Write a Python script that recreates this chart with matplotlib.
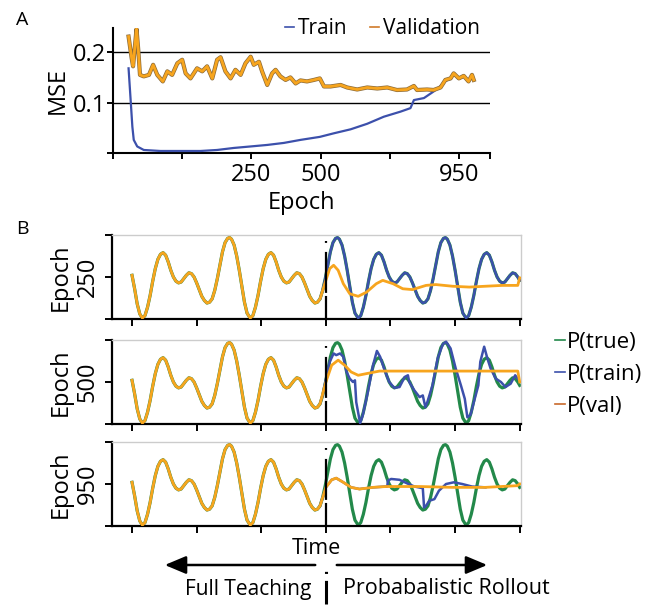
import numpy as np
import matplotlib
matplotlib.use('Agg')
import matplotlib.pyplot as plt
import matplotlib.patheffects as pe
from matplotlib.patches import FancyArrowPatch
from matplotlib.lines import Line2D

plt.rcParams['font.family'] = ['Open Sans', 'DejaVu Sans']
plt.rcParams['lines.scale_dashes'] = False

# ---- panel A data ----
epoch_val = [0, 9, 13, 23, 28, 33, 44, 59, 71, 83, 99, 112, 126, 141, 155, 165, 179, 198, 213, 227,
             242, 256, 266, 280, 295, 309, 324, 338, 353, 362, 377, 386, 401, 415, 425, 439, 454, 468,
             483, 497, 516, 536, 553, 565, 584, 613, 632, 661, 690, 719, 748, 776, 805, 825, 834, 863,
             882, 902, 916, 931, 940, 955, 969, 983, 993, 998]
mse_val = [0.231, 0.188, 0.172, 0.246, 0.205, 0.155, 0.152, 0.155, 0.175, 0.155, 0.142, 0.162, 0.155,
           0.178, 0.185, 0.158, 0.148, 0.168, 0.162, 0.172, 0.148, 0.185, 0.190, 0.162, 0.148, 0.165,
           0.155, 0.178, 0.191, 0.175, 0.181, 0.162, 0.135, 0.158, 0.165, 0.152, 0.145, 0.150, 0.138,
           0.144, 0.142, 0.145, 0.148, 0.132, 0.132, 0.135, 0.130, 0.126, 0.130, 0.128, 0.130, 0.125,
           0.126, 0.133, 0.125, 0.126, 0.125, 0.130, 0.145, 0.148, 0.158, 0.148, 0.153, 0.142, 0.155,
           0.145]
epoch_train = [0, 6, 11, 15, 25, 44, 92, 208, 256, 304, 353, 401, 449, 497, 553, 593, 642, 690, 738,
               786, 815, 825, 854, 882, 902, 916, 931, 940, 955, 969, 983, 993, 998]
mse_train = [0.168, 0.105, 0.052, 0.026, 0.013, 0.006, 0.004, 0.004, 0.006, 0.010, 0.013, 0.016,
             0.020, 0.026, 0.032, 0.039, 0.047, 0.058, 0.072, 0.082, 0.089, 0.105, 0.109, 0.122,
             0.133, 0.143, 0.147, 0.157, 0.147, 0.152, 0.141, 0.154, 0.144]

# ---- panel B data ----
t_true = [0.00, 0.04, 0.08, 0.12,
          0.16, 0.20, 0.24, 0.28, 0.32, 0.36, 0.40, 0.44, 0.48, 0.52, 0.56, 0.60, 0.64, 0.68, 0.72,
          0.76, 0.80, 0.84, 0.88, 0.92, 0.96, 1.00, 1.04, 1.08, 1.12, 1.16, 1.20, 1.24, 1.28, 1.32,
          1.36, 1.40, 1.44, 1.48, 1.51, 1.54, 1.58, 1.62, 1.66, 1.70, 1.74, 1.78,
          1.83, 1.87, 1.91, 1.95, 1.99, 2.03, 2.07, 2.11, 2.15, 2.19, 2.23, 2.27, 2.31, 2.35, 2.39,
          2.43, 2.47, 2.51, 2.55, 2.59, 2.63, 2.67, 2.71, 2.75, 2.79, 2.83, 2.87, 2.91, 2.95, 2.99,
          3.03, 3.07, 3.11, 3.15, 3.18, 3.21, 3.25, 3.29, 3.33, 3.37, 3.41, 3.45,
          3.50, 3.54, 3.58, 3.62, 3.66, 3.70, 3.74, 3.78, 3.82, 3.86, 3.90, 3.94, 3.98, 4.02, 4.06,
          4.10, 4.14, 4.18, 4.22, 4.26, 4.30, 4.34, 4.38, 4.42, 4.46, 4.50, 4.54, 4.58, 4.62, 4.66,
          4.70, 4.74, 4.78, 4.82, 4.85, 4.88, 4.92, 4.96, 5.00, 5.04, 5.08, 5.12,
          5.17, 5.21, 5.25, 5.29, 5.33, 5.37, 5.41, 5.45, 5.49, 5.53, 5.57, 5.61, 5.65, 5.69, 5.73,
          5.77, 5.81, 5.85, 5.89, 5.93, 5.97, 6.00]
p_true = [0.52, 0.36, 0.18, 0.06,
          0.01, 0.04, 0.14, 0.28, 0.45, 0.60, 0.71, 0.77, 0.79, 0.76, 0.68, 0.58, 0.50, 0.45, 0.43,
          0.44, 0.48, 0.52, 0.55, 0.54, 0.50, 0.43, 0.35, 0.27, 0.22, 0.19, 0.20, 0.24, 0.34, 0.48,
          0.64, 0.80, 0.91, 0.96, 0.97, 0.95, 0.88, 0.75, 0.58, 0.39, 0.20, 0.07,
          0.01, 0.04, 0.14, 0.28, 0.45, 0.60, 0.71, 0.77, 0.79, 0.76, 0.68, 0.58, 0.50, 0.45, 0.43,
          0.44, 0.48, 0.52, 0.55, 0.54, 0.50, 0.43, 0.35, 0.27, 0.22, 0.19, 0.20, 0.24, 0.34, 0.48,
          0.64, 0.80, 0.91, 0.96, 0.97, 0.95, 0.88, 0.75, 0.58, 0.39, 0.20, 0.07,
          0.01, 0.04, 0.14, 0.28, 0.45, 0.60, 0.71, 0.77, 0.79, 0.76, 0.68, 0.58, 0.50, 0.45, 0.43,
          0.44, 0.48, 0.52, 0.55, 0.54, 0.50, 0.43, 0.35, 0.27, 0.22, 0.19, 0.20, 0.24, 0.34, 0.48,
          0.64, 0.80, 0.91, 0.96, 0.97, 0.95, 0.88, 0.75, 0.58, 0.39, 0.20, 0.07,
          0.01, 0.04, 0.14, 0.28, 0.45, 0.60, 0.71, 0.77, 0.79, 0.76, 0.68, 0.58, 0.50, 0.45, 0.43,
          0.44, 0.48, 0.52, 0.55, 0.54, 0.50, 0.46]

# validation prediction after teacher forcing stops (one per epoch panel)
t_val_250 = [2.91, 3.00, 3.06, 3.12, 3.19, 3.27, 3.37, 3.50, 3.63, 3.78, 3.88, 4.04, 4.19, 4.34,
             4.55, 4.70, 4.96, 5.22, 5.47, 5.73, 5.97, 6.00]
p_val_250 = [0.24, 0.46, 0.60, 0.64, 0.58, 0.42, 0.30, 0.27, 0.32, 0.42, 0.46, 0.42, 0.36, 0.35,
             0.40, 0.41, 0.39, 0.38, 0.39, 0.40, 0.40, 0.49]
t_val_500 = [2.91, 3.00, 3.09, 3.19, 3.29, 3.39, 3.50, 3.63, 3.83, 4.09, 4.45, 4.96, 5.47, 5.97, 6.00]
p_val_500 = [0.24, 0.50, 0.70, 0.76, 0.70, 0.62, 0.58, 0.60, 0.63, 0.63, 0.63, 0.63, 0.63, 0.63, 0.50]
t_val_950 = [2.91, 3.00, 3.09, 3.16, 3.27, 3.39, 3.52, 3.73, 3.93, 4.45, 4.96, 5.47, 5.96, 6.00]
p_val_950 = [0.24, 0.46, 0.55, 0.57, 0.52, 0.46, 0.44, 0.46, 0.47, 0.47, 0.46, 0.46, 0.48, 0.50]

# train prediction in rollout
t_tr_500 = [2.91, 2.95, 2.98, 3.06, 3.12, 3.16, 3.22, 3.27, 3.32, 3.37, 3.42, 3.45, 3.47, 3.53, 3.57,
            3.65, 3.73, 3.79, 3.84, 3.91, 3.98, 4.06, 4.14, 4.22, 4.27, 4.29, 4.37, 4.45, 4.50, 4.54,
            4.57, 4.65, 4.73, 4.81, 4.86, 4.93, 5.01, 5.09, 5.15, 5.19, 5.24, 5.29, 5.36, 5.39, 5.45,
            5.50, 5.55, 5.63, 5.71, 5.78, 5.86, 5.93, 5.97]
p_tr_500 = [0.24, 0.34, 0.46, 0.74, 0.84, 0.82, 0.84, 0.80, 0.62, 0.54, 0.50, 0.52, 0.26, 0.01, 0.10,
            0.38, 0.70, 0.87, 0.80, 0.64, 0.50, 0.43, 0.44, 0.56, 0.58, 0.50, 0.40, 0.32, 0.34, 0.20,
            0.26, 0.46, 0.78, 0.95, 0.98, 0.90, 0.66, 0.46, 0.30, 0.08, 0.11, 0.26, 0.46, 0.74, 0.92,
            0.78, 0.66, 0.54, 0.50, 0.44, 0.48, 0.58, 0.54]
t_tr_950 = [3.93, 3.95, 3.96, 4.01, 4.14, 4.25, 4.37, 4.50, 4.52, 4.55, 4.60, 4.68, 4.75, 4.86, 4.98,
            5.11, 5.26, 5.47]
p_tr_950 = [0.47, 0.47, 0.54, 0.56, 0.55, 0.51, 0.47, 0.45, 0.22, 0.24, 0.30, 0.32, 0.42, 0.50, 0.52,
            0.50, 0.47, 0.46]

epoch_labels = ['250', '500', '950']

GREEN = '#23894a'
BLUE = '#3c50ab'
ORANGE = '#f7a51e'

W, H = 646, 605
fig = plt.figure(figsize=(W / 100, H / 100), dpi=100)


def fx(px):
    return px / W


def fy(py):
    return 1 - py / H


# dot / long dash / short gap / dash, as in the divider of the original
DIVIDER = (0, (16.6, 2.2, 29.5, 6.5, 1.4, 40))

# ---------------- panel A ----------------
axA = fig.add_axes([fx(113), fy(153), fx(490) - fx(113), fy(28) - fy(153)])
axA.plot(epoch_train, mse_train, color=BLUE, lw=1.6, zorder=3)
axA.plot(epoch_val, mse_val, color=ORANGE, lw=2.0, zorder=4,
         path_effects=[pe.Stroke(linewidth=3.0, foreground='#8a6a3a'), pe.Normal()])
axA.axhline(0.1, color='k', lw=1.0, zorder=1)
axA.axhline(0.2, color='k', lw=1.0, zorder=1)
axA.set_xlim(-45, 1045)
axA.set_ylim(0, 0.248)
axA.set_xticks([-45, 155, 355, 555, 755, 955, 1045])
axA.set_xticklabels(['', '', '250', '500', '', '950', ''], fontsize=17)
axA.set_yticks([0, 0.1, 0.2])
axA.set_yticklabels(['', '0.1', '0.2'], fontsize=17)
axA.tick_params(axis='x', length=4, width=1.4, pad=3)
axA.tick_params(axis='y', length=4, width=1.4, pad=1)
for s in ['top', 'right']:
    axA.spines[s].set_visible(False)
for s in ['left', 'bottom']:
    axA.spines[s].set_linewidth(1.5)
axA.set_xlabel('Epoch', fontsize=17, labelpad=3)
axA.set_ylabel('MSE', fontsize=17, labelpad=2)

hA = [Line2D([], [], color=BLUE, lw=1.2), Line2D([], [], color='#d07a2a', lw=1.2)]
fig.legend(hA, ['Train', 'Validation'], loc='center left', bbox_to_anchor=(fx(285), fy(29)),
           ncol=2, frameon=False, fontsize=15, handlelength=0.45, handletextpad=0.15,
           columnspacing=1.1, borderpad=0, borderaxespad=0)

fig.text(fx(22), fy(20), 'A', fontsize=14, ha='center', va='center')
fig.text(fx(22), fy(229), 'B', fontsize=14, ha='center', va='center')

# ---------------- panel B ----------------
tops = [235, 340, 442]
bots = [319, 424, 526]
val_t = [t_val_250, t_val_500, t_val_950]
val_p = [p_val_250, p_val_500, p_val_950]

teach_t = [t for t in t_true if t < 2.91]
teach_p = [p for t, p in zip(t_true, p_true) if t < 2.91]
roll1_t = [t for t in t_true if t >= 2.91]
roll1_p = [p for t, p in zip(t_true, p_true) if t >= 2.91]
tr_t = [roll1_t, t_tr_500, t_val_950[:8] + t_tr_950]
tr_p = [roll1_p, p_tr_500, p_val_950[:8] + p_tr_950]

axes_b = []
for i in range(3):
    ax = fig.add_axes([fx(112), fy(bots[i]), fx(521) - fx(112), fy(tops[i]) - fy(bots[i])])
    axes_b.append(ax)
    ax.plot(t_true, p_true, color=GREEN, lw=2.3, zorder=2)
    ax.plot(tr_t[i], tr_p[i], color=BLUE, lw=1.8, zorder=3)
    ax.plot(teach_t + val_t[i], teach_p + val_p[i], color=ORANGE, lw=2.0, zorder=4)
    ax.axvline(3, ymin=0, ymax=0.93, color='k', lw=1.6, zorder=5, linestyle=DIVIDER)
    ax.set_xlim(-0.31, 6.02)
    ax.set_ylim(0, 1)
    ax.set_xticks(range(7))
    ax.set_xticklabels([])
    ax.set_yticks([0, 0.5, 1])
    ax.set_yticklabels(['', epoch_labels[i], ''], rotation=90, va='center', fontsize=17)
    ax.tick_params(axis='both', length=5, width=1.4)
    ax.tick_params(axis='y', pad=4)
    for s in ['top', 'right']:
        ax.spines[s].set_color('#cccccc')
        ax.spines[s].set_linewidth(1.0)
    for s in ['left', 'bottom']:
        ax.spines[s].set_linewidth(1.6)
    ax.set_ylabel('Epoch', fontsize=17, labelpad=2)

axes_b[2].set_xlabel('Time', fontsize=15.5, labelpad=0)

hB = [Line2D([], [], color=GREEN, lw=1.2), Line2D([], [], color=BLUE, lw=1.2),
      Line2D([], [], color='#c8682a', lw=1.2)]
fig.legend(hB, ['P(true)', 'P(train)', 'P(val)'], loc='upper left',
           bbox_to_anchor=(fx(555), fy(332)), frameon=False, fontsize=16,
           handlelength=0.45, handletextpad=0.1, labelspacing=0.5, borderpad=0, borderaxespad=0)

# arrows under the time axis
yarr = fy(565)
for x0, x1 in [(fx(318), fx(162)), (fx(334), fx(490))]:
    fig.patches.append(FancyArrowPatch((x0, yarr), (x1, yarr), transform=fig.transFigure,
                                       arrowstyle='-|>,head_length=1.0,head_width=0.42',
                                       mutation_scale=13, lw=1.8, color='k'))
fig.add_artist(Line2D([fx(326), fx(326)], [fy(604), fy(569)], transform=fig.transFigure,
                      color='k', lw=2.2, linestyle=(0, (17, 5, 1.5, 20))))
fig.text(fx(185), fy(589), 'Full Teaching', fontsize=15, ha='left', va='center')
fig.text(fx(343), fy(589), 'Probabalistic Rollout', fontsize=15.5, ha='left', va='center')

fig.savefig('out.png', dpi=100)
